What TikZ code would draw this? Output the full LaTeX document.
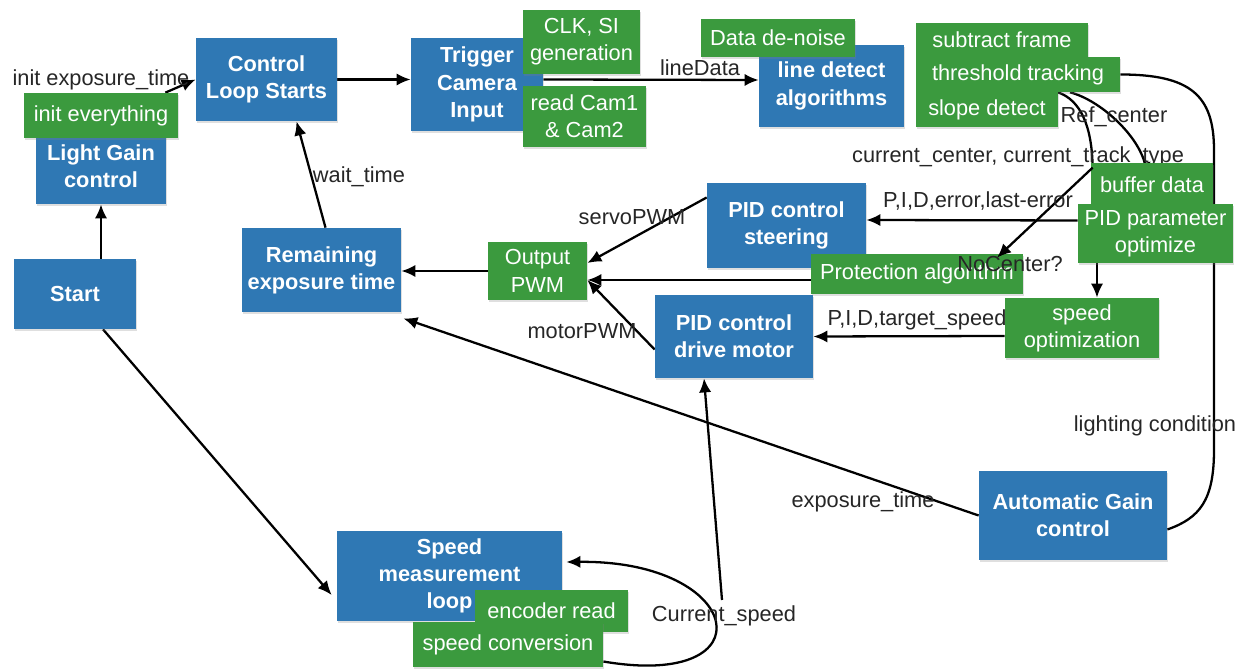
\documentclass[tikz,border=0pt]{standalone}
\usepackage{fontspec}
\setmainfont{Liberation Sans}
\usepackage{tikz}
\usetikzlibrary{arrows.meta,calc,backgrounds,shadows}

\definecolor{boxblue}{HTML}{2F78B4}
\definecolor{boxgreen}{HTML}{3B9A3E}

\tikzset{
  base/.style={align=center, text=white, inner sep=2pt,
    drop shadow={opacity=0.25, shadow xshift=0.5pt, shadow yshift=-1pt}},
  blk/.style 2 args={base, fill=boxblue, font=\fontsize{12.4}{15.5}\selectfont\bfseries,
    minimum width=#1*0.02cm, minimum height=#2*0.02cm},
  sub/.style 2 args={base, fill=boxgreen, font=\fontsize{12.4}{15.5}\selectfont,
    minimum width=#1*0.02cm, minimum height=#2*0.02cm},
  lbl/.style={font=\fontsize{12.4}{15}\selectfont, text=black!85, inner sep=0pt},
  flow/.style={line width=1.3pt, -{Latex[length=8pt,width=7pt]}},
  wire/.style={line width=1.3pt},
}

\begin{document}
\begin{tikzpicture}[x=0.02cm, y=-0.02cm]
\useasboundingbox (0,0) rectangle (1248,671);

% main blocks
\node[blk={141}{83}] (ctrl) at (266.5,79.5) {Control\\Loop Starts};
\node[blk={130}{76}] (lgain) at (101,166) {Light Gain\\control};
\node[blk={122}{70}] (start) at (75,294) {Start};
\node[blk={159}{84}] (remain) at (321.5,270) {Remaining\\exposure time};
\node[blk={132}{93}] (trig) at (477,84.5) {Trigger\\Camera\\Input};
\node[blk={145}{82}] (linedet) at (831.5,86) {line detect\\algorithms};
\node[blk={159}{85}] (pidst) at (786.5,225.5) {PID control\\steering};
\node[blk={158}{83}] (piddr) at (734,336.5) {PID control\\drive motor};
\node[blk={188}{89}] (agc) at (1073,515.5) {Automatic Gain\\control};
\node[blk={225}{90}] (speedm) at (449.5,576) {Speed\\measurement\\loop};

% sub tasks
\node[sub={154}{45}] (initev) at (101,115.5) {init everything};
\node[sub={117}{64}] (clk) at (581.5,42) {CLK, SI\\generation};
\node[sub={123}{61}] (readcam) at (584.5,116.5) {read Cam1\\\& Cam2};
\node[sub={154}{38}] (denoise) at (778,38) {Data de-noise};
\node[sub={172}{34}] (subtr) at (1002,40) {subtract frame};
\node[sub={204}{35}] (thresh) at (1018,74.5) {threshold tracking};
\node[sub={142}{35}] (slope) at (987,109.5) {slope detect};
\node[sub={122}{44}] (buffer) at (1152,185) {buffer data};
\node[sub={155}{59}] (pidopt) at (1155.5,233.5) {PID parameter\\optimize};
\node[sub={212}{40}] (protect) at (917,274) {Protection algorithm};
\node[sub={154}{60}] (spdopt) at (1082,328) {speed\\optimization};
\node[sub={99}{58}] (outpwm) at (537.5,271) {Output\\PWM};
\node[sub={153}{42}] (encoder) at (551.5,611) {encoder read};
\node[sub={190}{45}] (spconv) at (508,644.5) {speed conversion};

\coordinate (cspd) at (722,600);

\begin{scope}[on background layer]
\draw[flow] (lgain.south |- start.north) -- (lgain.south);
\draw[flow] ($(initev.north east)+(-13,0)$) -- (ctrl.west);
\draw[flow] (ctrl.east) -- (ctrl.east -| trig.west);
\draw[flow] ($(trig.east)+(0,-5)$) -- ($(linedet.west)+(0,-6)$);
\draw[flow] ($(remain.north)+(4,0)$) -- ($(ctrl.south)+(30,0)$);
\draw[flow] (outpwm.west) -- (outpwm.west -| remain.east);
\draw[flow] ($(pidst.west)+(0,-28)$) -- ($(outpwm.east)+(0,-8)$);
\draw[flow] ($(protect.west)+(0,6)$) -- ($(outpwm.east)+(0,9)$);
\draw[flow] ($(piddr.west)+(0,13)$) -- ($(outpwm.east)+(0,9)$);
\draw[flow] ($(pidopt.west)+(0,-13)$) -- ($(pidst.east)+(0,-5.5)$);
\draw[flow] ($(pidopt.south)+(-58.5,0)$) -- ($(spdopt.north)+(15,0)$);
\draw[flow] ($(spdopt.west)+(0,8)$) -- (piddr.east);
\draw[flow] (agc.west) -- ($(remain.south east)+(2,6)$);
\draw[flow] ($(start.south)+(28,0)$) -- ($(speedm.west)+(-5,19)$);
% speed feedback loop
\draw[flow] ($(spconv.east)+(0,17)$) .. controls (770,690) and (745,560) .. ($(speedm.east)+(4,-14)$);
\draw[flow] (cspd) -- ($(piddr.south)+(-30,0)$);
% tracking outputs
\draw[flow] ($(thresh.south)+(52,0)$) .. controls (1100,100) and (1138,135) .. ($(buffer.north)+(-4,14)$);
\draw[wire] ($(thresh.south)+(40,0)$) .. controls (1080,100) and (1092,125) .. ($(buffer.north west)+(2,5)$);
\draw[wire] (thresh.east) .. controls (1190,74.5) and (1214,95) .. (1214,150) -- (1214,450)
  .. controls (1214,500) and (1200,518) .. ($(agc.east)+(0,14)$);
\node[lbl] (lcur) at (1018,157) {current\_center, current\_track\_type};
\end{scope}

\draw[flow] ($(buffer.north west)+(2,5)$) -- ($(protect.north)+(80,4)$);

% labels
\node[lbl] (linit) at (101,80) {init exposure\_time};
\node[lbl] (lline) at (700,68) {lineData};
\node[lbl] (lwait) at (359,177) {wait\_time};
\node[lbl] (lref) at (1114,117) {Ref\_center};
\node[lbl] (lpide) at (978,201) {P,I,D,error,last-error};
\node[lbl] (lnoc) at (1010,264) {NoCenter?};
\node[lbl] (lservo) at (632,217) {servoPWM};
\node[lbl] (lmotor) at (582,331) {motorPWM};
\node[lbl] (lpidt) at (917,320) {P,I,D,target\_speed};
\node[lbl] (llight) at (1155,426) {lighting condition};
\node[lbl] (lexp) at (863,502) {exposure\_time};
\node[lbl] (lspd) at (724,616) {Current\_speed};
\end{tikzpicture}
\end{document}
